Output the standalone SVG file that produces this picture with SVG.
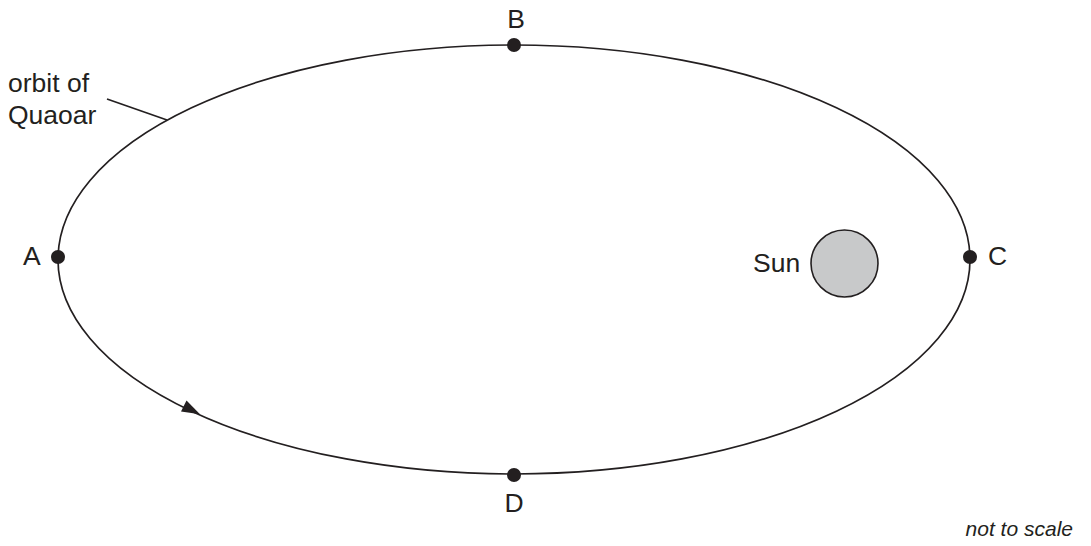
<svg xmlns="http://www.w3.org/2000/svg" width="1091" height="546" viewBox="0 0 1091 546">
<style>
text{font-family:"Liberation Sans",Arial,sans-serif;font-size:26.5px;fill:#231f20}
.dot{fill:#231f20}
.line{fill:none;stroke:#231f20;stroke-width:1.7}
</style>
<rect width="1091" height="546" fill="#fff"/>
<g id="orbit">
<ellipse class="line" cx="514" cy="259.5" rx="456" ry="214.5"/>
<polygon class="dot" points="200,414.3 181,411.5 186.5,400.5"/>
</g>
<g id="connectors">
<line class="line" x1="107" y1="99" x2="167" y2="120"/>
</g>
<g id="label-orbit">
<text x="8" y="92">orbit of</text>
<text x="8" y="124">Quaoar</text>
</g>
<g id="point-A"><circle class="dot" cx="58" cy="257" r="7"/><text x="23" y="265">A</text></g>
<g id="point-B"><circle class="dot" cx="514" cy="45" r="7"/><text x="516" y="28" text-anchor="middle">B</text></g>
<g id="point-C"><circle class="dot" cx="970" cy="257" r="7"/><text x="988" y="265">C</text></g>
<g id="point-D"><circle class="dot" cx="514" cy="475" r="7"/><text x="514" y="512" text-anchor="middle">D</text></g>
<g id="sun"><circle cx="844.5" cy="263.5" r="33.5" fill="#c8c9ca" stroke="#231f20" stroke-width="1.6"/><text x="753" y="272">Sun</text></g>
<text x="1073" y="536" text-anchor="end" style="font-style:italic;font-size:21px">not to scale</text>
</svg>
